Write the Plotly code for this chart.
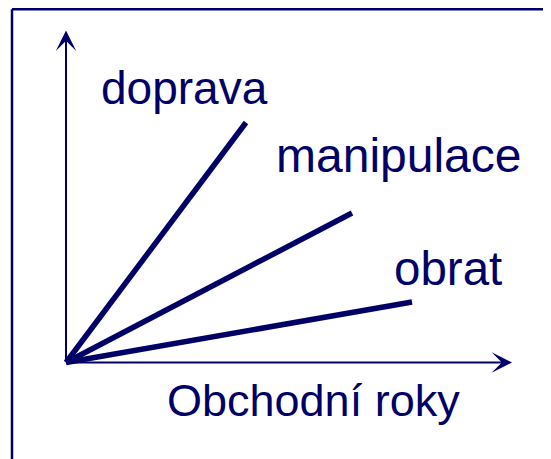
import plotly.graph_objects as go

# Data (arbitrary units: business years vs. cost)
series_names = ["doprava", "manipulace", "obrat"]
x_start = [0, 0, 0]
y_start = [0, 0, 0]
x_end = [18.0, 28.6, 34.6]
y_end = [24.0, 14.95, 6.05]
x_axis_len = 44.6
y_axis_len = 33.2
x_title = "Obchodní roky"

NAVY = "#000066"
FONT = "Liberation Sans, Arial, sans-serif"
# page body has an 8px margin, so the figure is drawn 8px smaller
W, H = 543, 451
PAD = 8

fig = go.Figure()
for i, name in enumerate(series_names):
    fig.add_trace(go.Scatter(
        x=[x_start[i], x_end[i]], y=[y_start[i], y_end[i]],
        mode="lines", name=name,
        line=dict(color=NAVY, width=5.5),
        showlegend=False, hoverinfo="skip",
    ))

# axes as arrows
fig.add_annotation(x=x_axis_len, y=0, ax=0, ay=0, xref="x", yref="y", axref="x", ayref="y",
                   showarrow=True, arrowhead=3, arrowwidth=2, arrowsize=1.7, arrowcolor=NAVY, text="")
fig.add_annotation(x=0, y=y_axis_len, ax=0, ay=0, xref="x", yref="y", axref="x", ayref="y",
                   showarrow=True, arrowhead=3, arrowwidth=2, arrowsize=1.7, arrowcolor=NAVY, text="")

# labels
label_pos = [(3.3, 27.5, 46), (20.8, 20.7, 48), (32.6, 9.4, 47.5)]
for name, (lx, ly, fs) in zip(series_names, label_pos):
    fig.add_annotation(x=lx, y=ly, xref="x", yref="y", text=name, showarrow=False,
                       xanchor="left", yanchor="middle",
                       font=dict(family=FONT, size=fs, color=NAVY))
fig.add_annotation(x=9.9, y=-3.75, xref="x", yref="y", text=x_title, showarrow=False,
                   xanchor="left", yanchor="middle",
                   font=dict(family=FONT, size=45, color=NAVY))

# frame (top and left)
fx = (12 - PAD) / W
fy = 1 - 1.3 / H
fig.add_shape(type="line", xref="paper", yref="paper", x0=fx, x1=fx, y0=0, y1=fy,
              line=dict(color=NAVY, width=2.5))
fig.add_shape(type="line", xref="paper", yref="paper", x0=fx, x1=1, y0=fy, y1=fy,
              line=dict(color=NAVY, width=2.5))

ox, oy = 66 - PAD, 362.5 - PAD
scale = 10.0
fig.update_layout(
    width=W, height=H,
    margin=dict(l=0, r=0, t=0, b=0),
    paper_bgcolor="white", plot_bgcolor="white",
    xaxis=dict(range=[-ox / scale, (W - ox) / scale], visible=False, fixedrange=True),
    yaxis=dict(range=[-(H - oy) / scale, oy / scale], visible=False, fixedrange=True),
    showlegend=False,
)
fig.write_html("out.html")
